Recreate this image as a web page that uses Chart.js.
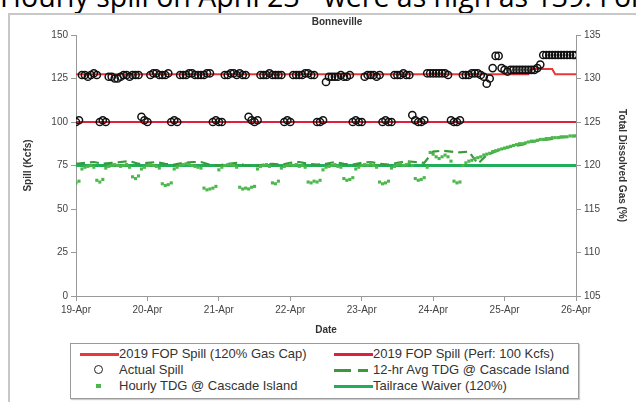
<!DOCTYPE html>
<html><head><meta charset="utf-8">
<script src="https://cdn.jsdelivr.net/npm/chart.js@4"></script>
<style>
html,body{margin:0;padding:0;background:#fff;}
body{width:636px;height:402px;overflow:hidden;position:relative;font-family:"Liberation Sans",Arial,sans-serif;}
#top{position:absolute;left:0;top:-23px;white-space:nowrap;font-family:"Open Sans";font-size:28.5px;line-height:39px;color:#000;}
#frame{position:absolute;left:8px;top:13px;width:700px;height:500px;border:2px solid #c8c8c8;}
#wrap{position:absolute;left:0;top:0;width:636px;height:340px;}
#legend{position:absolute;left:70px;top:343px;width:507px;height:54px;border:1px solid #9a9a9a;box-shadow:1px 1px 1px #ccc;background:#fff;}
.it{position:absolute;font-size:13px;color:#333;line-height:14px;white-space:nowrap;}
.sw{position:absolute;}
</style></head>
<body>
<div id="top">Hourly spill on April 23 - were as high as 139. For</div>
<div id="frame"></div>
<div id="wrap"><canvas id="c" width="636" height="340"></canvas></div>
<div id="legend">
  <div class="sw" style="left:9px;top:9px;width:39px;height:0;border-top:3px solid #e8383a;"></div>
  <div class="it" style="left:48px;top:3px;">2019 FOP Spill (120% Gas Cap)</div>
  <div class="sw" style="left:263px;top:9px;width:39px;height:0;border-top:3px solid #e0203a;"></div>
  <div class="it" style="left:302px;top:3px;">2019 FOP Spill (Perf: 100 Kcfs)</div>
  <div class="sw" style="left:23px;top:21px;width:7px;height:7px;border:1.5px solid #222;border-radius:50%;"></div>
  <div class="it" style="left:48px;top:19px;">Actual Spill</div>
  <div class="sw" style="left:263px;top:25px;width:17px;height:0;border-top:3px solid #3a9a3a;"></div>
  <div class="sw" style="left:287px;top:25px;width:10px;height:0;border-top:3px solid #3a9a3a;"></div>
  <div class="it" style="left:302px;top:19px;">12-hr Avg TDG @ Cascade Island</div>
  <div class="sw" style="left:25px;top:40px;width:5px;height:4px;background:#4cb84c;"></div>
  <div class="it" style="left:48px;top:35px;">Hourly TDG @ Cascade Island</div>
  <div class="sw" style="left:263px;top:41px;width:39px;height:0;border-top:3px solid #1fae5a;"></div>
  <div class="it" style="left:302px;top:35px;">Tailrace Waiver (120%)</div>
</div>
<script>
const chartTitle = 'Bonneville';
const dateLabels = ['19-Apr','20-Apr','21-Apr','22-Apr','23-Apr','24-Apr','25-Apr','26-Apr'];

// Actual spill, hourly from 19-Apr 00:00 (kcfs)
const actualSpill = [
 100,101,
 127,127,126,127,128,127,
 100,101,100,
 126,126,125,125,126,127,127,126,127,127,127,
 103,101,100,
 127,128,128,127,127,127,128,
 100,101,100,
 127,127,127,128,128,127,127,127,127,128,128,
 100,101,100,100,
 127,127,128,128,127,128,127,127,
 103,101,100,101,
 127,127,127,128,127,127,127,127,
 100,101,100,
 127,127,127,127,128,128,127,127,
 100,100,101,
 123,126,126,126,126,127,126,126,127,
 100,101,100,100,
 126,127,127,127,126,127,
 100,101,100,100,
 127,127,127,128,127,127,
 104,101,100,100,101,
 128,128,128,128,128,128,128,127,
 101,100,100,101,
 127,127,127,128,128,128,127,126,
 122,125,131,138,138,131,
 130,129,130,130,130,130,130,130,130,130,130,131,
 133,
 138.5,138.5,138.5,138.5,138.5,138.5,138.5,138.5,138.5,138.5,138.5,138.5
];

// Hourly TDG at Cascade Island (%)
const hourlyTDG = [
 118.0,118.2,
 119.6,119.8,119.9,120.0,119.8,
 118.3,118.1,118.4,
 119.7,119.9,120.0,120.1,120.0,119.9,120.0,120.1,119.8,
 118.7,118.5,118.8,
 119.6,119.8,120.0,120.1,120.0,119.9,119.7,
 117.9,117.7,117.8,118.0,
 119.6,119.8,120.0,120.1,120.2,120.1,120.0,119.9,119.8,119.7,
 117.4,117.2,117.3,117.4,117.6,
 119.5,119.8,120.0,120.1,120.1,120.0,119.8,
 117.5,117.3,117.4,117.3,117.5,117.6,
 119.6,119.9,120.0,120.1,119.9,
 118.0,117.9,118.2,
 119.7,119.9,120.0,120.1,120.0,120.1,119.9,120.0,119.8,
 118.1,118.0,118.2,118.1,118.3,
 119.5,119.8,119.9,120.0,120.1,119.9,119.8,
 118.5,118.3,118.4,118.6,
 119.6,119.8,120.0,120.1,120.0,120.2,120.0,119.8,
 118.1,117.9,118.0,118.2,
 119.7,119.9,120.1,120.2,120.0,120.1,120.3,120.0,
 118.5,118.3,118.4,118.6,
 119.8,121.5,121.3,121.0,120.8,121.0,121.2,121.0,120.5,
 118.2,118.0,118.1,
 120.0,120.3,120.5,120.6,120.8,120.9,121.0,121.2,121.3,121.4,
 121.6,121.7,121.8,121.9,122.0,122.1,122.2,122.3,122.4,122.5,
 122.5,122.6,122.7,122.8,122.8,122.9,123.0,123.0,123.1,123.1,
 123.2,123.2,123.2,123.3,123.3,123.3,123.4,123.4,123.4
];

// 12-hr average TDG, every 3 hours (%)
const avgTDG12 = [
 120.2,120.3,120.4,120.2,120.3,120.4,120.5,120.2,120.3,120.4,
 120.2,120.1,120.3,120.4,120.4,120.1,120.0,120.2,120.3,120.0,
 119.9,120.1,120.2,120.1,120.3,120.4,120.2,120.1,120.2,120.4,
 120.2,120.1,120.3,120.4,120.2,120.1,120.3,120.5,120.4,120.3,
 121.6,121.7,121.6,121.5,121.6,120.2,121.2,121.6,122.0,122.2,
 122.4,122.7,122.9,123.0,123.2,123.3,123.4
];

// FOP spill caps (kcfs) at given hours
const gasCapHours = [0,152,153,160,161,168];
const gasCapSpill = [127.5,127.5,130.5,130.5,127.5,127.5];
const perfHours = [0,168];
const perfSpill = [100,100];
const waiverHours = [0,168];
const waiverTDG = [120,120];

const pts = (hours, vals) => vals.map((v,i)=>({x: hours[i]/24, y: v}));
const hourly = vals => vals.map((v,i)=>({x: i/24, y: v}));
const every3 = vals => vals.map((v,i)=>({x: i*3/24, y: v}));

const FONT = "'Liberation Sans', Arial, sans-serif";
Chart.defaults.font.family = FONT;
Chart.defaults.color = '#444';

const axisCommon = {
  grid:{display:true, drawOnChartArea:false, drawTicks:true, tickLength:5, color:'#999'},
  border:{display:true, color:'#999', width:1},
};

const titlePlugin = {
  id:'topTitle',
  afterDraw(chart){
    const ctx = chart.ctx;
    ctx.save();
    ctx.font = "bold 10px " + FONT;
    ctx.fillStyle = '#333';
    ctx.textAlign = 'center';
    ctx.textBaseline = 'middle';
    ctx.fillText(chartTitle, 337, 22);
    ctx.restore();
  }
};

new Chart(document.getElementById('c'), {
  type:'scatter',
  plugins:[titlePlugin],
  data:{datasets:[
    {label:'Actual Spill', data:hourly(actualSpill), yAxisID:'y', showLine:false,
     pointStyle:'circle', pointRadius:3.6, borderColor:'#111', backgroundColor:'rgba(0,0,0,0)', borderWidth:1.5, order:0},
    {label:'Hourly TDG @ Cascade Island', data:hourly(hourlyTDG), yAxisID:'y2', showLine:false,
     pointStyle:'rect', pointRadius:2.2, borderWidth:0, backgroundColor:'#4cb84c', borderColor:'#4cb84c', order:1},
    {label:'12-hr Avg TDG @ Cascade Island', data:every3(avgTDG12), yAxisID:'y2', showLine:true,
     borderColor:'#3a9a3a', borderWidth:2.2, borderDash:[9,5], pointRadius:0, tension:0, order:2},
    {label:'Tailrace Waiver (120%)', data:pts(waiverHours, waiverTDG), yAxisID:'y2', showLine:true,
     borderColor:'#1fae5a', borderWidth:3, pointRadius:0, order:3},
    {label:'2019 FOP Spill (Perf: 100 Kcfs)', data:pts(perfHours, perfSpill), yAxisID:'y', showLine:true,
     borderColor:'#e0203a', borderWidth:2, pointRadius:0, order:4},
    {label:'2019 FOP Spill (120% Gas Cap)', data:pts(gasCapHours, gasCapSpill), yAxisID:'y', showLine:true,
     borderColor:'#e8383a', borderWidth:2, pointRadius:0, order:5}
  ]},
  options:{
    responsive:false, animation:false, devicePixelRatio:1,
    layout:{padding:{left:18, right:4, top:35, bottom:0}},
    plugins:{
      legend:{display:false}, tooltip:{enabled:false}, title:{display:false}
    },
    scales:{
      x:{type:'linear', min:0, max:7, ...axisCommon,
        ticks:{stepSize:1, autoSkip:false, maxRotation:0, color:'#444', font:{size:10}, padding:3,
          callback:(v)=> Number.isInteger(v) ? dateLabels[v] : ''},
        title:{display:true, text:'Date', color:'#333', font:{size:10, weight:'bold'}, padding:{top:4,bottom:4}},
        afterFit:(s)=>{ s.height = 44; }
      },
      y:{position:'left', min:0, max:150, ...axisCommon,
        ticks:{stepSize:25, color:'#444', font:{size:10}, padding:3},
        title:{display:true, text:'Spill (Kcfs)', color:'#333', font:{size:10, weight:'bold'}, padding:{top:4,bottom:4}},
        afterFit:(s)=>{ s.width = 58; }
      },
      y2:{position:'right', min:105, max:135, ...axisCommon,
        ticks:{stepSize:5, color:'#444', font:{size:10}, padding:3},
        title:{display:true, text:'Total Dissolved Gas (%)', color:'#333', font:{size:10, weight:'bold'}, padding:{top:4,bottom:4}},
        afterFit:(s)=>{ s.width = 56; }
      }
    }
  }
});
</script>
</body></html>
